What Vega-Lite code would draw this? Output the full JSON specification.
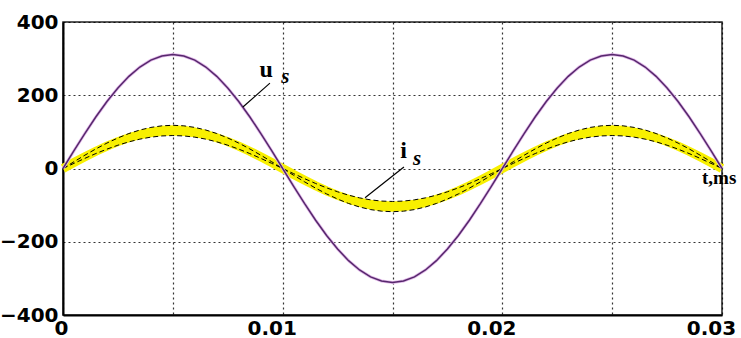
{
  "$schema": "https://vega.github.io/schema/vega-lite/v6.json",
  "width": 659,
  "height": 293,
  "autosize": {"type": "none"},
  "padding": {"left": 63, "top": 22, "right": 19, "bottom": 23},
  "background": "white",
  "config": {
    "view": {"stroke": "#222", "strokeWidth": 1.5},
    "axis": {
      "labelFont": "DejaVu Sans",
      "labelFontWeight": "bold",
      "labelFontSize": 20,
      "labelColor": "#000",
      "ticks": false,
      "title": null,
      "domainColor": "#000",
      "domainWidth": 2,
      "gridColor": "#000",
      "gridDash": [2, 3],
      "gridWidth": 1.2,
      "gridOpacity": 0.8
    }
  },
  "datasets": {
    "wave": [
      {"t": 0, "u": 0, "ihi": 0, "ic": 0, "ilo": 0},
      {"t": 0.0005, "u": 48.6, "ihi": 18.5, "ic": 16.3, "ilo": 14.1},
      {"t": 0.001, "u": 96.1, "ihi": 36.5, "ic": 32.1, "ilo": 27.8},
      {"t": 0.0015, "u": 141.2, "ihi": 53.6, "ic": 47.2, "ilo": 40.9},
      {"t": 0.002, "u": 182.8, "ihi": 69.4, "ic": 61.1, "ilo": 52.9},
      {"t": 0.0025, "u": 219.9, "ihi": 83.4, "ic": 73.5, "ilo": 63.6},
      {"t": 0.003, "u": 251.6, "ihi": 95.5, "ic": 84.1, "ilo": 72.8},
      {"t": 0.0035, "u": 277.1, "ihi": 105.1, "ic": 92.7, "ilo": 80.2},
      {"t": 0.004, "u": 295.8, "ihi": 112.2, "ic": 98.9, "ilo": 85.6},
      {"t": 0.0045, "u": 307.2, "ihi": 116.5, "ic": 102.7, "ilo": 88.9},
      {"t": 0.005, "u": 311, "ihi": 118, "ic": 104, "ilo": 90},
      {"t": 0.0055, "u": 307.2, "ihi": 116.5, "ic": 102.7, "ilo": 88.9},
      {"t": 0.006, "u": 295.8, "ihi": 112.2, "ic": 98.9, "ilo": 85.6},
      {"t": 0.0065, "u": 277.1, "ihi": 105.1, "ic": 92.7, "ilo": 80.2},
      {"t": 0.007, "u": 251.6, "ihi": 95.5, "ic": 84.1, "ilo": 72.8},
      {"t": 0.0075, "u": 219.9, "ihi": 83.4, "ic": 73.5, "ilo": 63.6},
      {"t": 0.008, "u": 182.8, "ihi": 69.4, "ic": 61.1, "ilo": 52.9},
      {"t": 0.0085, "u": 141.2, "ihi": 53.6, "ic": 47.2, "ilo": 40.9},
      {"t": 0.009, "u": 96.1, "ihi": 36.5, "ic": 32.1, "ilo": 27.8},
      {"t": 0.0095, "u": 48.6, "ihi": 18.5, "ic": 16.3, "ilo": 14.1},
      {"t": 0.01, "u": 0, "ihi": 0, "ic": 0, "ilo": 0},
      {"t": 0.0105, "u": -48.6, "ihi": -18.5, "ic": -16.3, "ilo": -14.1},
      {"t": 0.011, "u": -96.1, "ihi": -36.5, "ic": -32.1, "ilo": -27.8},
      {"t": 0.0115, "u": -141.2, "ihi": -53.6, "ic": -47.2, "ilo": -40.9},
      {"t": 0.012, "u": -182.8, "ihi": -69.4, "ic": -61.1, "ilo": -52.9},
      {"t": 0.0125, "u": -219.9, "ihi": -83.4, "ic": -73.5, "ilo": -63.6},
      {"t": 0.013, "u": -251.6, "ihi": -95.5, "ic": -84.1, "ilo": -72.8},
      {"t": 0.0135, "u": -277.1, "ihi": -105.1, "ic": -92.7, "ilo": -80.2},
      {"t": 0.014, "u": -295.8, "ihi": -112.2, "ic": -98.9, "ilo": -85.6},
      {"t": 0.0145, "u": -307.2, "ihi": -116.5, "ic": -102.7, "ilo": -88.9},
      {"t": 0.015, "u": -311, "ihi": -118, "ic": -104, "ilo": -90},
      {"t": 0.0155, "u": -307.2, "ihi": -116.5, "ic": -102.7, "ilo": -88.9},
      {"t": 0.016, "u": -295.8, "ihi": -112.2, "ic": -98.9, "ilo": -85.6},
      {"t": 0.0165, "u": -277.1, "ihi": -105.1, "ic": -92.7, "ilo": -80.2},
      {"t": 0.017, "u": -251.6, "ihi": -95.5, "ic": -84.1, "ilo": -72.8},
      {"t": 0.0175, "u": -219.9, "ihi": -83.4, "ic": -73.5, "ilo": -63.6},
      {"t": 0.018, "u": -182.8, "ihi": -69.4, "ic": -61.1, "ilo": -52.9},
      {"t": 0.0185, "u": -141.2, "ihi": -53.6, "ic": -47.2, "ilo": -40.9},
      {"t": 0.019, "u": -96.1, "ihi": -36.5, "ic": -32.1, "ilo": -27.8},
      {"t": 0.0195, "u": -48.6, "ihi": -18.5, "ic": -16.3, "ilo": -14.1},
      {"t": 0.02, "u": 0, "ihi": 0, "ic": 0, "ilo": 0},
      {"t": 0.0205, "u": 48.6, "ihi": 18.5, "ic": 16.3, "ilo": 14.1},
      {"t": 0.021, "u": 96.1, "ihi": 36.5, "ic": 32.1, "ilo": 27.8},
      {"t": 0.0215, "u": 141.2, "ihi": 53.6, "ic": 47.2, "ilo": 40.9},
      {"t": 0.022, "u": 182.8, "ihi": 69.4, "ic": 61.1, "ilo": 52.9},
      {"t": 0.0225, "u": 219.9, "ihi": 83.4, "ic": 73.5, "ilo": 63.6},
      {"t": 0.023, "u": 251.6, "ihi": 95.5, "ic": 84.1, "ilo": 72.8},
      {"t": 0.0235, "u": 277.1, "ihi": 105.1, "ic": 92.7, "ilo": 80.2},
      {"t": 0.024, "u": 295.8, "ihi": 112.2, "ic": 98.9, "ilo": 85.6},
      {"t": 0.0245, "u": 307.2, "ihi": 116.5, "ic": 102.7, "ilo": 88.9},
      {"t": 0.025, "u": 311, "ihi": 118, "ic": 104, "ilo": 90},
      {"t": 0.0255, "u": 307.2, "ihi": 116.5, "ic": 102.7, "ilo": 88.9},
      {"t": 0.026, "u": 295.8, "ihi": 112.2, "ic": 98.9, "ilo": 85.6},
      {"t": 0.0265, "u": 277.1, "ihi": 105.1, "ic": 92.7, "ilo": 80.2},
      {"t": 0.027, "u": 251.6, "ihi": 95.5, "ic": 84.1, "ilo": 72.8},
      {"t": 0.0275, "u": 219.9, "ihi": 83.4, "ic": 73.5, "ilo": 63.6},
      {"t": 0.028, "u": 182.8, "ihi": 69.4, "ic": 61.1, "ilo": 52.9},
      {"t": 0.0285, "u": 141.2, "ihi": 53.6, "ic": 47.2, "ilo": 40.9},
      {"t": 0.029, "u": 96.1, "ihi": 36.5, "ic": 32.1, "ilo": 27.8},
      {"t": 0.0295, "u": 48.6, "ihi": 18.5, "ic": 16.3, "ilo": 14.1},
      {"t": 0.03, "u": 0, "ihi": 0, "ic": 0, "ilo": 0}
    ],
    "leaders": [
      {"name": "u", "t": 0.00819, "v": 168},
      {"name": "u", "t": 0.00942, "v": 233},
      {"name": "i", "t": 0.01375, "v": -80},
      {"name": "i", "t": 0.01552, "v": 4}
    ],
    "notes": [
      {"kind": "main", "txt": "u", "t": 0.00925, "v": 270},
      {"kind": "sub", "txt": "s", "t": 0.01012, "v": 249},
      {"kind": "main", "txt": "i", "t": 0.0155, "v": 48},
      {"kind": "sub", "txt": "s", "t": 0.01612, "v": 27},
      {"kind": "axis", "txt": "t,ms", "t": 0.02987, "v": -25}
    ]
  },
  "layer": [
    {
      "data": {"name": "wave"},
      "mark": {"type": "area", "color": "#f8f000", "opacity": 1},
      "encoding": {
        "x": {
          "field": "t",
          "type": "quantitative",
          "scale": {"domain": [0, 0.03], "nice": false},
          "axis": {
            "values": [0, 0.005, 0.01, 0.015, 0.02, 0.025, 0.03],
            "format": "~g",
            "labelExpr": "abs(datum.value * 100 - round(datum.value * 100)) < 1e-6 ? datum.label : ''",
            "labelPadding": 3,
            "labelOffset": {"condition": {"test": "datum.value > 0", "value": -11}, "value": -2},
            "labelFlush": false,
            "grid": true
          }
        },
        "y": {
          "field": "ihi",
          "type": "quantitative",
          "scale": {"domain": [-400, 400], "nice": false},
          "axis": {
            "values": [-400, -300, -200, -100, 0, 100, 200, 300, 400],
            "labelExpr": "datum.value % 200 === 0 ? datum.label : ''",
            "labelPadding": 5,
            "labelFlush": false,
            "grid": true
          }
        },
        "y2": {"field": "ilo"}
      }
    },
    {
      "data": {"name": "wave"},
      "mark": {"type": "line", "color": "#f8f000", "strokeWidth": 9},
      "encoding": {
        "x": {"field": "t", "type": "quantitative"},
        "y": {"field": "ic", "type": "quantitative"}
      }
    },
    {
      "data": {"name": "wave"},
      "mark": {"type": "line", "color": "#000", "strokeWidth": 1, "strokeDash": [5, 3]},
      "encoding": {
        "x": {"field": "t", "type": "quantitative"},
        "y": {"field": "ihi", "type": "quantitative"}
      }
    },
    {
      "data": {"name": "wave"},
      "mark": {"type": "line", "color": "#000", "strokeWidth": 1, "strokeDash": [5, 3]},
      "encoding": {
        "x": {"field": "t", "type": "quantitative"},
        "y": {"field": "ilo", "type": "quantitative"}
      }
    },
    {
      "mark": {"type": "rule", "color": "#000", "strokeWidth": 2},
      "encoding": {"y": {"datum": 0}}
    },
    {
      "data": {"name": "wave"},
      "mark": {"type": "line", "color": "#e2b8ea", "strokeWidth": 3},
      "encoding": {
        "x": {"field": "t", "type": "quantitative"},
        "y": {"field": "u", "type": "quantitative"}
      }
    },
    {
      "data": {"name": "wave"},
      "mark": {"type": "line", "color": "#56286c", "strokeWidth": 1.5},
      "encoding": {
        "x": {"field": "t", "type": "quantitative"},
        "y": {"field": "u", "type": "quantitative"}
      }
    },
    {
      "data": {"name": "leaders"},
      "mark": {"type": "line", "color": "#000", "strokeWidth": 1.2},
      "encoding": {
        "x": {"field": "t", "type": "quantitative"},
        "y": {"field": "v", "type": "quantitative"},
        "detail": {"field": "name"}
      }
    },
    {
      "data": {"name": "notes"},
      "transform": [{"filter": "datum.kind === 'main'"}],
      "mark": {"type": "text", "font": "Liberation Serif", "fontWeight": "bold", "fontSize": 24, "color": "#000", "align": "center", "baseline": "middle"},
      "encoding": {
        "x": {"field": "t", "type": "quantitative"},
        "y": {"field": "v", "type": "quantitative"},
        "text": {"field": "txt"}
      }
    },
    {
      "data": {"name": "notes"},
      "transform": [{"filter": "datum.kind === 'sub'"}],
      "mark": {"type": "text", "font": "Liberation Serif", "fontWeight": "bold", "fontStyle": "italic", "fontSize": 21, "color": "#000", "align": "center", "baseline": "middle"},
      "encoding": {
        "x": {"field": "t", "type": "quantitative"},
        "y": {"field": "v", "type": "quantitative"},
        "text": {"field": "txt"}
      }
    },
    {
      "data": {"name": "notes"},
      "transform": [{"filter": "datum.kind === 'axis'"}],
      "mark": {"type": "text", "font": "Liberation Serif", "fontWeight": "bold", "fontSize": 19, "color": "#000", "align": "center", "baseline": "middle"},
      "encoding": {
        "x": {"field": "t", "type": "quantitative"},
        "y": {"field": "v", "type": "quantitative"},
        "text": {"field": "txt"}
      }
    }
  ]
}
